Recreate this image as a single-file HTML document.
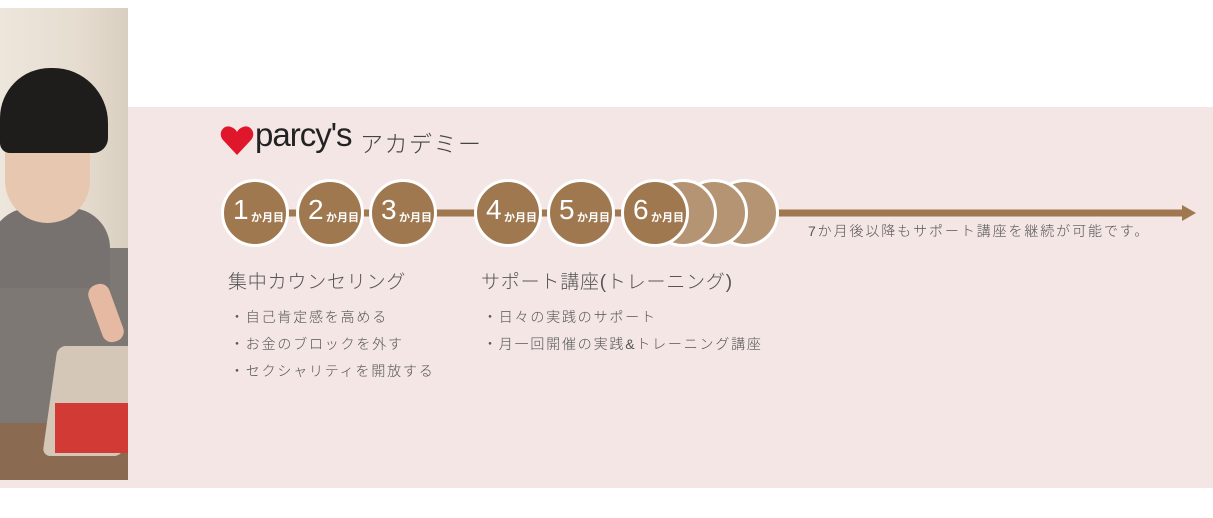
<!DOCTYPE html>
<html><head><meta charset="utf-8"><style>
body{margin:0;width:1213px;height:518px;background:#fff;position:relative;overflow:hidden;font-family:"Liberation Sans","Noto Sans CJK JP",sans-serif;}
.pink{position:absolute;left:0;top:107px;width:1213px;height:381px;background:#f3e6e4;}
.photo{position:absolute;left:0;top:8px;width:128px;height:472px;overflow:hidden;background:linear-gradient(90deg,#ede6dc,#e6ddd0 60%,#d9cfc0);}
.t{position:absolute;color:#555;white-space:nowrap;font-weight:300;}
.c{position:absolute;width:62px;height:62px;border-radius:50%;background:#9f7850;border:3px solid #fff;color:#fff;}
.g{background:#b59474;}
.c span.n{position:absolute;left:9px;top:12px;font-size:28px;font-weight:300;}
.c span.s{position:absolute;left:27px;top:27px;font-size:11px;font-weight:bold;}
</style></head><body>
<div class="pink"></div>
<div class="photo">
 <div style="position:absolute;left:0;top:240px;width:128px;height:240px;background:#7d7874;"></div>
 <div style="position:absolute;left:-10px;top:200px;width:120px;height:80px;background:#777270;border-radius:40px 40px 0 0;"></div>
 <div style="position:absolute;left:5px;top:95px;width:85px;height:120px;background:#e8c7b0;border-radius:40px 40px 45px 45px;"></div>
 <div style="position:absolute;left:0;top:60px;width:108px;height:85px;background:#1f1c1c;border-radius:50px 55px 15px 10px;"></div>
 <div style="position:absolute;left:95px;top:275px;width:22px;height:60px;background:#e6b9a2;border-radius:10px;transform:rotate(-20deg);"></div>
 <div style="position:absolute;left:0;top:415px;width:128px;height:60px;background:#8a6a50;"></div>
 <div style="position:absolute;left:50px;top:338px;width:80px;height:110px;background:#d4c7b8;border-radius:8px;transform:skewX(-8deg);"></div>
 <div style="position:absolute;left:55px;top:395px;width:75px;height:50px;background:#d23a36;"></div>
</div>
<svg style="position:absolute;left:0;top:0" width="1213" height="518">
 <path d="M237 155 L223 140 C217 133 224 124 231 127 C234 128 236 130 237 132 C238 130 240 128 243 127 C250 124 257 133 251 140 Z" fill="#e0162b"/>
 <line x1="260" y1="213" x2="1185" y2="213" stroke="#9f7850" stroke-width="7"/>
 <polygon points="1182,205 1196,213 1182,221" fill="#9f7850"/>
</svg>
<div class="t" style="left:255px;top:116px;font-size:33px;color:#222;font-weight:400;letter-spacing:-1px;">parcy's</div>
<div class="t" style="left:360px;top:125px;font-size:23px;color:#444;letter-spacing:1.5px;">アカデミー</div>
<div class="c g" style="left:711px;top:179px;"></div>
<div class="c g" style="left:680px;top:179px;"></div>
<div class="c g" style="left:649px;top:179px;"></div>
<div class="c" style="left:221px;top:179px;"><span class="n">1</span><span class="s">か月目</span></div>
<div class="c" style="left:296px;top:179px;"><span class="n">2</span><span class="s">か月目</span></div>
<div class="c" style="left:369px;top:179px;"><span class="n">3</span><span class="s">か月目</span></div>
<div class="c" style="left:474px;top:179px;"><span class="n">4</span><span class="s">か月目</span></div>
<div class="c" style="left:547px;top:179px;"><span class="n">5</span><span class="s">か月目</span></div>
<div class="c" style="left:621px;top:179px;"><span class="n">6</span><span class="s">か月目</span></div>
<div class="t" style="left:808px;top:221px;font-size:14px;letter-spacing:1.9px;">7か月後以降もサポート講座を継続が可能です。</div>
<div class="t" style="left:228px;top:267px;font-size:19px;letter-spacing:0.8px;">集中カウンセリング</div>
<div class="t" style="left:481px;top:267px;font-size:19px;letter-spacing:0.8px;">サポート講座(トレーニング)</div>
<div class="t" style="left:230px;top:304px;font-size:14px;line-height:27px;letter-spacing:1.8px;">・自己肯定感を高める<br>・お金のブロックを外す<br>・セクシャリティを開放する</div>
<div class="t" style="left:483px;top:304px;font-size:14px;line-height:27px;letter-spacing:1.8px;">・日々の実践のサポート<br>・月一回開催の実践&amp;トレーニング講座</div>
</body></html>
